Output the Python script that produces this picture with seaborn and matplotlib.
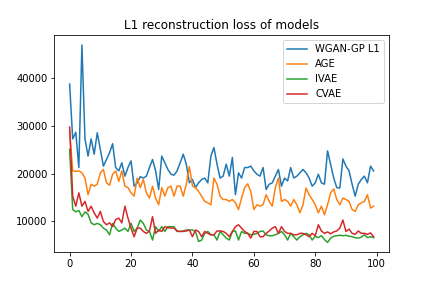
import matplotlib
matplotlib.use("Agg")
import matplotlib.pyplot as plt
import seaborn as sns
import pandas as pd
import numpy as np

epochs = list(range(100))

wgan_gp_l1 = [38800, 27300, 28700, 21300, 47000, 27300, 23700, 27300, 24100, 28600,
              25100, 21600, 23000, 24400, 26300, 21300, 20600, 22300, 19500, 21300,
              22700, 17400, 18100, 19400, 19100, 19500, 21300, 23000, 20600, 16700,
              23700, 22300, 20900, 19900, 19700, 20600, 22300, 24100, 22000, 18100,
              18800, 17100, 18100, 18800, 19100, 18100, 23700, 25500, 22000, 19100,
              19500, 22000, 19500, 23400, 15600, 20200, 19100, 21300, 21300, 21600,
              20600, 19900, 19500, 21300, 16700, 17800, 18100, 19500, 20900, 17400,
              19100, 18500, 21300, 19100, 19500, 20200, 20900, 20200, 19100, 17400,
              18100, 19900, 18100, 17800, 24800, 22000, 19100, 17100, 17000, 23100,
              21600, 20600, 17800, 15300, 17800, 18800, 19500, 18100, 21600, 20600]

age = [29000, 20600, 20500, 20600, 20200, 19100, 15600, 17800, 17400, 17800,
       20200, 20900, 18100, 17600, 19900, 20600, 18400, 20600, 17400, 17100,
       16000, 15300, 19100, 17100, 18800, 16000, 14900, 17400, 14900, 13500,
       17100, 15300, 17100, 17400, 15300, 17400, 17400, 15300, 17800, 21500,
       17400, 17100, 16300, 15300, 14200, 13900, 13500, 19100, 17800, 15300,
       14600, 14600, 14200, 14600, 13900, 12500, 14900, 17100, 17900, 16300,
       12500, 13500, 13200, 13500, 15600, 14200, 13200, 17100, 19100, 14200,
       14600, 14200, 13200, 14600, 13500, 11800, 13500, 17000, 15600, 14600,
       13500, 11800, 13200, 11400, 13500, 16000, 16800, 14600, 13500, 14900,
       14600, 14200, 12500, 12100, 13500, 13900, 14200, 15600, 12800, 13200]

ivae = [25100, 12500, 12000, 12300, 11000, 12000, 11500, 9700, 9300, 9600,
        9300, 8600, 8200, 7200, 9600, 8600, 7900, 8200, 8600, 7900,
        9600, 7900, 8600, 10300, 9600, 8200, 7900, 6100, 8900, 7900,
        8900, 7900, 8900, 8900, 8900, 7900, 7900, 8000, 8200, 8200,
        8200, 7900, 5800, 6100, 7500, 7900, 7200, 7200, 6100, 7900,
        7200, 6500, 6100, 7900, 8000, 6100, 7900, 7500, 7500, 7200,
        7300, 7500, 7900, 8000, 7200, 7000, 7000, 7200, 7500, 7900,
        7200, 6100, 7500, 6800, 6100, 6800, 7200, 7500, 7200, 6100,
        6900, 6600, 7000, 6200, 5600, 6500, 6900, 7000, 7100, 7000,
        7100, 6900, 6800, 6600, 6500, 6700, 7200, 6600, 6800, 6600]

cvae = [29800, 15300, 13200, 16000, 13200, 14200, 12100, 13200, 11800, 10700,
        12100, 10000, 9300, 9700, 8900, 10400, 10700, 9700, 13200, 10700,
        8600, 6800, 8600, 8600, 7900, 7500, 8000, 11000, 7500, 8200,
        7900, 8900, 8700, 8600, 8600, 8000, 7900, 7900, 8000, 8200,
        6800, 8200, 7900, 6800, 7900, 7500, 7200, 7200, 8000, 8000,
        7900, 7500, 6800, 7900, 8900, 9300, 8600, 7900, 7500, 6500,
        7900, 7900, 6800, 6800, 7500, 8000, 8600, 8900, 7500, 8900,
        7900, 7500, 7500, 7200, 7200, 7500, 7500, 7200, 6800, 7500,
        7000, 9300, 8000, 7500, 7800, 7400, 7800, 8000, 8600, 10300,
        7900, 8400, 7500, 7300, 8000, 7500, 7500, 7300, 7600, 6800]

models = ["WGAN-GP L1", "AGE", "IVAE", "CVAE"]
series = [wgan_gp_l1, age, ivae, cvae]

df = pd.concat([pd.DataFrame({"epoch": epochs, "loss": s, "model": m})
                for m, s in zip(models, series)], ignore_index=True)

plt.rcParams["font.family"] = ["DejaVu Sans"]
fig, ax = plt.subplots(figsize=(6, 4), dpi=72)
fig.subplots_adjust(left=0.126, right=0.9, bottom=0.124, top=0.878)

palette = ["#1f77b4", "#ff7f0e", "#2ca02c", "#d62728"]
sns.lineplot(data=df, x="epoch", y="loss", hue="model", hue_order=models,
             palette=palette, linewidth=1.5, ax=ax)

ax.set_xlabel("")
ax.set_ylabel("")
ax.set_title("L1 reconstruction loss of models")
ax.set_xticks([0, 20, 40, 60, 80, 100])
ax.set_yticks([10000, 20000, 30000, 40000])
handles, labels = ax.get_legend_handles_labels()
ax.legend(handles, labels, loc="upper right")

fig.savefig("out.png", dpi=72)
